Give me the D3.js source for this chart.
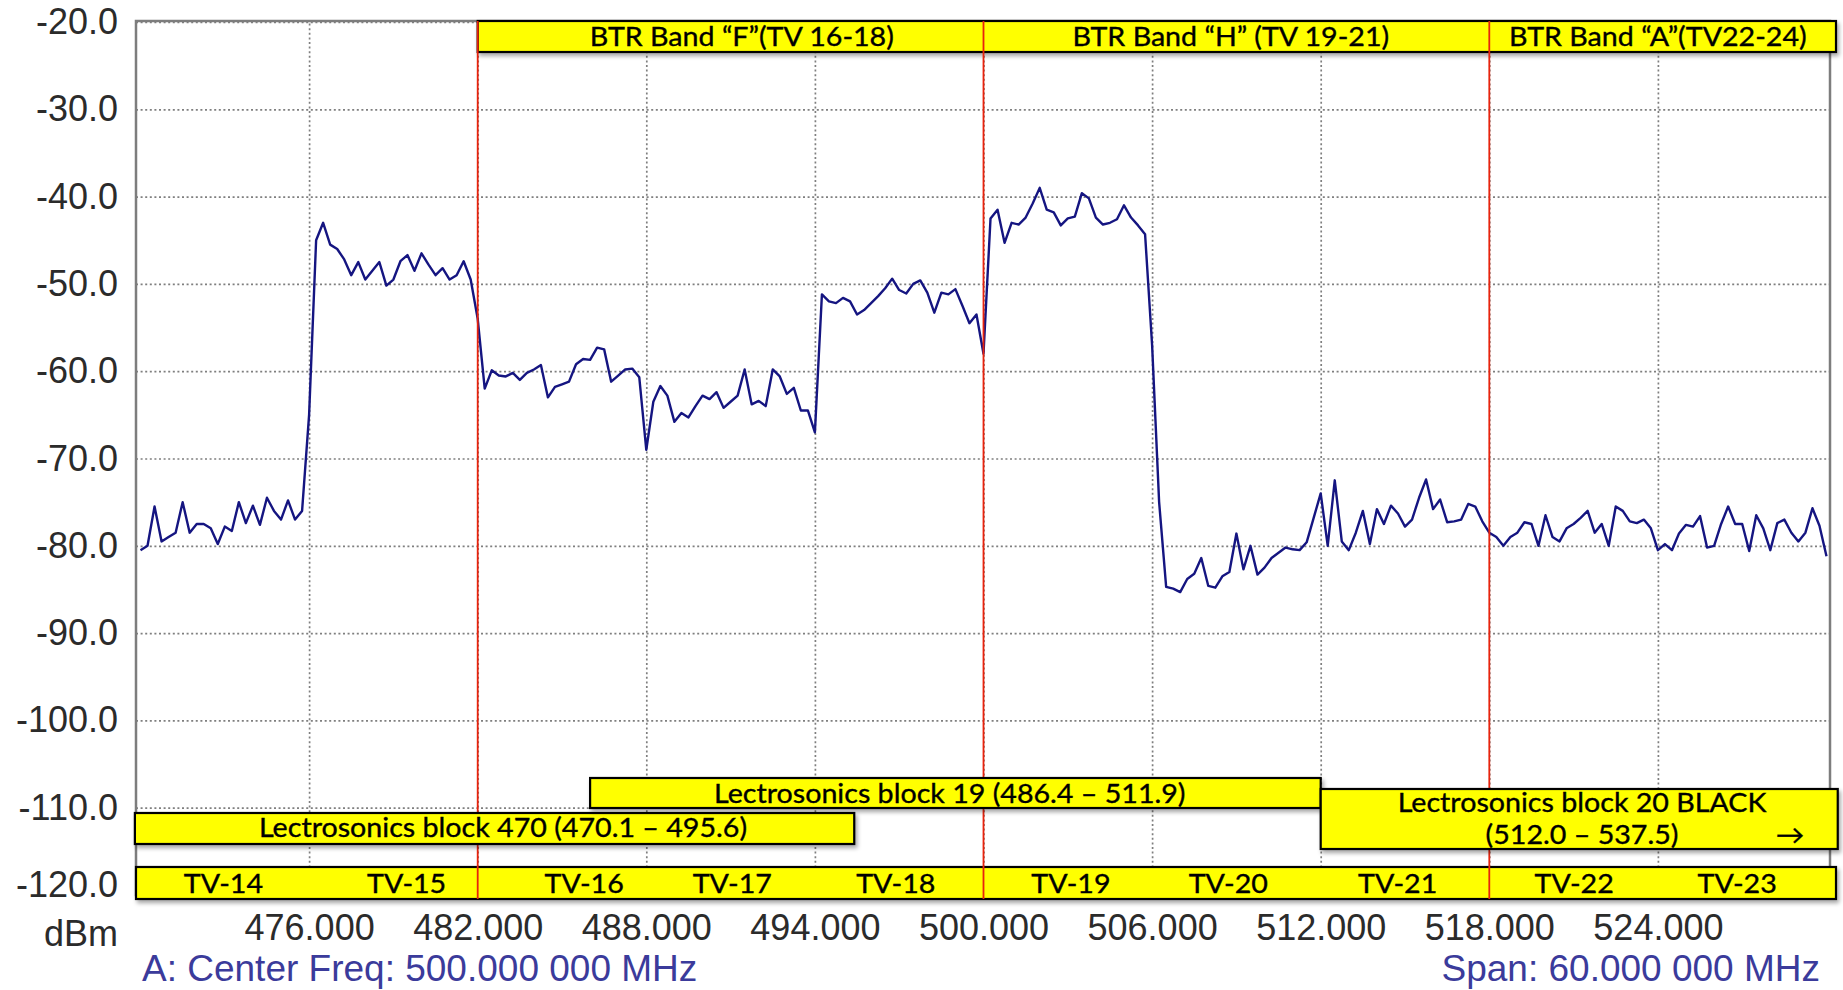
<!DOCTYPE html>
<html>
<head>
<meta charset="UTF-8">
<title>Spectrum 470 - 530 MHz</title>
<script src="https://d3js.org/d3.v7.min.js"></script>
<style>
  body { margin: 0; background: #fff; }
  svg { display: block; }
</style>
</head>
<body>
<script>
// ---- data ----
var xTicks = [476, 482, 488, 494, 500, 506, 512, 518, 524];
var yTicks = [-20, -30, -40, -50, -60, -70, -80, -90, -100, -110, -120];

// trace, one reading every 0.25 MHz from 470.00 to 530.00 MHz (dBm)
var traceStartMHz = 470, traceStepMHz = 0.25;
var traceDbm = [
  -80.5, -80.0, -75.5, -79.5,  -79.0, -78.5, -75.0, -78.5,  -77.5, -77.5, -78.0, -79.8,   // 470-472
  -77.8, -78.3, -75.0, -77.4,  -75.4, -77.6, -74.5, -76.0,  -77.0, -74.8, -77.0, -76.0,   // 473-475
  -65.0, -45.0, -43.0, -45.5,  -46.0, -47.2, -49.0, -47.5,  -49.5, -48.5, -47.5, -50.2,   // 476-478
  -49.5, -47.4, -46.7, -48.5,  -46.5, -47.8, -49.0, -48.2,  -49.5, -49.0, -47.4, -49.5,   // 479-481
  -54.0, -62.0, -59.9, -60.5,  -60.6, -60.2, -61.0, -60.2,  -59.8, -59.3, -63.0, -61.8,   // 482-484
  -61.5, -61.2, -59.2, -58.6,  -58.7, -57.3, -57.5, -61.2,  -60.5, -59.8, -59.7, -60.7,   // 485-487
  -69.0, -63.5, -61.7, -62.8,  -65.8, -64.8, -65.3, -64.0,  -62.8, -63.2, -62.4, -64.2,   // 488-490
  -63.5, -62.8, -59.8, -63.8,  -63.4, -64.0, -59.8, -60.6,  -62.6, -61.9, -64.5, -64.5,   // 491-493
  -67.0, -51.2, -52.0, -52.2,  -51.6, -52.0, -53.5, -53.0,  -52.2, -51.4, -50.5, -49.4,   // 494-496
  -50.7, -51.1, -50.0, -49.6,  -51.0, -53.3, -51.0, -51.2,  -50.6, -52.5, -54.5, -53.5,   // 497-499
  -58.0, -42.5, -41.5, -45.3,  -43.0, -43.2, -42.4, -40.8,  -39.0, -41.5, -41.8, -43.3,   // 500-502
  -42.5, -42.3, -39.6, -40.2,  -42.4, -43.2, -43.0, -42.6,  -41.0, -42.4, -43.3, -44.3,   // 503-505
  -57.0, -75.0, -84.7, -84.9,  -85.3, -83.8, -83.2, -81.4,  -84.6, -84.8, -83.5, -83.0,   // 506-508
  -78.6, -82.7, -80.0, -83.3,  -82.5, -81.4, -80.8, -80.2,  -80.4, -80.5, -79.6, -76.8,   // 509-511
  -74.0, -80.0, -72.5, -79.5,  -80.5, -78.5, -76.0, -79.8,  -75.8, -77.5, -75.4, -76.3,   // 512-514
  -77.8, -77.0, -74.5, -72.4,  -75.8, -74.7, -77.3, -77.2,  -77.0, -75.2, -75.5, -77.2,   // 515-517
  -78.5, -79.0, -80.0, -79.0,  -78.5, -77.3, -77.5, -80.0,  -76.5, -79.0, -79.5, -78.0,   // 518-520
  -77.5, -76.8, -76.0, -78.5,  -77.5, -80.0, -75.5, -76.0,  -77.2, -77.4, -77.0, -78.0,   // 521-523
  -80.5, -79.8, -80.5, -78.6,  -77.6, -77.8, -76.6, -80.2,  -80.0, -77.5, -75.5, -77.5,   // 524-526
  -77.5, -80.6, -76.5, -78.0,  -80.5, -77.4, -77.0, -78.5,  -79.5, -78.5, -75.7, -77.7,   // 527-529
  -81.2                                                                                    // 530
];

// BTR band annotations (top bar)
var btrDividersMHz = [482, 500, 518];
var btrLabels = ["BTR Band \u201CF\u201D(TV 16-18)", "BTR Band \u201CH\u201D (TV 19-21)", "BTR Band \u201CA\u201D(TV22-24)"];
var btrLabelAtMHz = [491.4, 508.8, 524.0];

// TV channel bar
var tvLabels = ["TV-14", "TV-15", "TV-16", "TV-17", "TV-18", "TV-19", "TV-20", "TV-21", "TV-22", "TV-23"];
var tvLabelAtMHz = [472.95, 479.47, 485.79, 491.06, 496.88, 503.11, 508.71, 514.74, 521.02, 526.82];

// Lectrosonics blocks
var lectroLines = [
  ["Lectrosonics block 470 (470.1 \u2013 495.6)"],
  ["Lectrosonics block 19 (486.4 \u2013 511.9)"],
  ["Lectrosonics block 20 BLACK", "(512.0 \u2013 537.5)"]
];
var lectroFromMHz = [469.8, 486.0, 512.0];
var lectroToMHz = [495.4, 512.0, 530.4];
var lectroLabelAtMHz = [482.9, 498.8, 521.3];
var arrowAtMHz = 528.7;

// ---- layout ----
var W = 1843, H = 990;
var plot = { left: 136, right: 1830, top: 21, bottom: 895 };
var labelFont = "Lato, 'DejaVu Sans', sans-serif";
var axisFont = "'Liberation Sans', Arial, sans-serif";
var stretch = 1.08;

var x = d3.scaleLinear().domain([470, 530]).range([140.5, 1826.5]);
var y = d3.scaleLinear().domain([-20, -120]).range([22, 895]);

var svg = d3.select("body").append("svg")
  .attr("width", W)
  .attr("height", H);

var shadow = svg.append("defs").append("filter")
  .attr("id", "shadow")
  .attr("x", "-5%").attr("y", "-30%")
  .attr("width", "110%").attr("height", "170%");
shadow.append("feDropShadow")
  .attr("dx", 2).attr("dy", 3)
  .attr("stdDeviation", 2)
  .attr("flood-color", "#000")
  .attr("flood-opacity", 0.35);

// gridlines
var gridX = svg.append("g")
  .attr("transform", "translate(0," + plot.bottom + ")")
  .call(d3.axisBottom(x).tickValues(xTicks).tickSize(-(plot.bottom - plot.top)).tickFormat(""));
gridX.select(".domain").remove();

var gridY = svg.append("g")
  .attr("transform", "translate(" + plot.left + ",0)")
  .call(d3.axisLeft(y).tickValues(yTicks).tickSize(-(plot.right - plot.left)).tickFormat(""));
gridY.select(".domain").remove();

svg.selectAll(".tick line")
  .attr("stroke", "#7f7f7f")
  .attr("stroke-width", 1.7)
  .attr("stroke-dasharray", "2,2.6");

// frame
svg.append("rect")
  .attr("x", plot.left).attr("y", plot.top)
  .attr("width", plot.right - plot.left)
  .attr("height", plot.bottom - plot.top)
  .attr("fill", "none")
  .attr("stroke", "#7d7d7d")
  .attr("stroke-width", 2.5);

// trace
var line = d3.line()
  .x(function (d, i) { return x(traceStartMHz + i * traceStepMHz); })
  .y(function (d) { return y(d); });

svg.append("path")
  .datum(traceDbm)
  .attr("fill", "none")
  .attr("stroke", "#151581")
  .attr("stroke-width", 2.4)
  .attr("stroke-linejoin", "round")
  .attr("d", line);

// helper for the slightly wide annotation text
function label(g, txt, px, py, anchor) {
  return g.append("text")
    .attr("transform", "translate(" + px + "," + py + ") scale(" + stretch + ",1)")
    .attr("text-anchor", anchor || "middle")
    .style("font-family", labelFont)
    .style("font-size", "26.5px")
    .attr("fill", "#000")
    .attr("stroke", "#000")
    .attr("stroke-width", 0.35)
    .text(txt);
}

// top BTR bar
var topBar = svg.append("g");
topBar.append("rect")
  .attr("x", x(btrDividersMHz[0])).attr("y", 21)
  .attr("width", plot.right + 6 - x(btrDividersMHz[0]))
  .attr("height", 31)
  .attr("fill", "#ffff00")
  .attr("stroke", "#000")
  .attr("stroke-width", 2.2)
  .attr("filter", "url(#shadow)");
btrLabels.forEach(function (t, i) { label(topBar, t, x(btrLabelAtMHz[i]), 46); });

// TV channel bar
var tvBar = svg.append("g");
tvBar.append("rect")
  .attr("x", plot.left).attr("y", 867)
  .attr("width", plot.right + 6 - plot.left)
  .attr("height", 32)
  .attr("fill", "#ffff00")
  .attr("stroke", "#000")
  .attr("stroke-width", 2.2)
  .attr("filter", "url(#shadow)");
tvLabels.forEach(function (t, i) { label(tvBar, t, x(tvLabelAtMHz[i]), 893); });

// red band dividers
svg.selectAll(".divider")
  .data(btrDividersMHz)
  .enter().append("line")
  .attr("class", "divider")
  .attr("x1", function (d) { return x(d); })
  .attr("x2", function (d) { return x(d); })
  .attr("y1", plot.top)
  .attr("y2", 899)
  .attr("stroke", "#e8230d")
  .attr("stroke-width", 1.8);

// Lectrosonics boxes
var lectroLayout = [
  { top: 813, height: 31, baselines: [837] },
  { top: 778, height: 30, baselines: [803] },
  { top: 789, height: 60, baselines: [812, 844] }
];
lectroLines.forEach(function (lines, i) {
  var g = svg.append("g");
  var lay = lectroLayout[i];
  g.append("rect")
    .attr("x", x(lectroFromMHz[i])).attr("y", lay.top)
    .attr("width", x(lectroToMHz[i]) - x(lectroFromMHz[i]))
    .attr("height", lay.height)
    .attr("fill", "#ffff00")
    .attr("stroke", "#000")
    .attr("stroke-width", 2.2)
    .attr("filter", "url(#shadow)");
  lines.forEach(function (t, j) { label(g, t, x(lectroLabelAtMHz[i]), lay.baselines[j]); });
  if (lines.length > 1) {
    label(g, "\u2192", x(arrowAtMHz), lay.baselines[1]);
  }
});

// axis labels
var yAxis = svg.append("g")
  .attr("transform", "translate(118,0)")
  .call(d3.axisLeft(y).tickValues(yTicks).tickSize(0).tickPadding(0)
    .tickFormat(function (d) { return d.toFixed(1); }));
yAxis.select(".domain").remove();
yAxis.selectAll("text")
  .attr("dy", function (d) { return d === -120 ? "0.04em" : "0.32em"; });

var xAxis = svg.append("g")
  .attr("transform", "translate(0,914)")
  .call(d3.axisBottom(x).tickValues(xTicks).tickSize(0).tickPadding(0)
    .tickFormat(function (d) { return d.toFixed(3); }));
xAxis.select(".domain").remove();

svg.selectAll(".tick text")
  .style("font-family", axisFont)
  .style("font-size", "36px")
  .attr("fill", "#2b2b2b");

svg.append("text")
  .attr("x", 118).attr("y", 946)
  .attr("text-anchor", "end")
  .style("font-family", axisFont)
  .style("font-size", "36px")
  .attr("fill", "#2b2b2b")
  .text("dBm");

svg.append("text")
  .attr("x", 142).attr("y", 981)
  .style("font-family", axisFont)
  .style("font-size", "37px")
  .attr("fill", "#3b3b9b")
  .text("A: Center Freq: 500.000 000 MHz");

svg.append("text")
  .attr("x", 1820).attr("y", 981)
  .attr("text-anchor", "end")
  .style("font-family", axisFont)
  .style("font-size", "37px")
  .attr("fill", "#3b3b9b")
  .text("Span: 60.000 000 MHz");
</script>
</body>
</html>
